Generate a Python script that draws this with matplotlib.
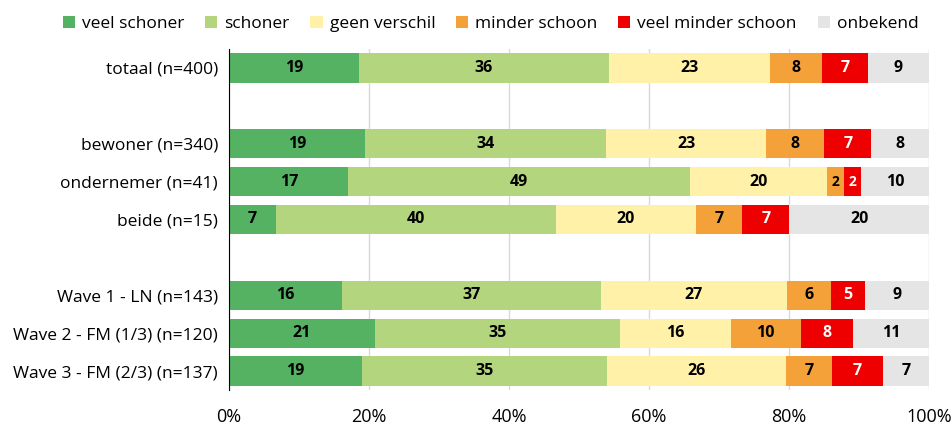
import numpy as np
import matplotlib.pyplot as plt

plt.rcParams['font.family'] = ['Open Sans', 'DejaVu Sans']

# Categories (top to bottom), '' marks an empty spacer row
categories = ['totaal (n=400)', '', 'bewoner (n=340)', 'ondernemer (n=41)', 'beide (n=15)', '',
              'Wave 1 - LN (n=143)', 'Wave 2 - FM (1/3) (n=120)', 'Wave 3 - FM (2/3) (n=137)']

series = ['veel schoner', 'schoner', 'geen verschil', 'minder schoon', 'veel minder schoon', 'onbekend']
colors = ['#55B262', '#B3D57D', '#FFF2A8', '#F4A13A', '#EE0000', '#E5E5E5']
label_colors = ['black', 'black', 'black', 'black', 'white', 'black']

# percentages per series, same order as categories (None for spacer rows)
veel_schoner = [18.50, None, 19.41, 17.07, 6.67, None, 16.08, 20.83, 18.98]
schoner = [35.75, None, 34.41, 48.78, 40.00, None, 37.06, 35.00, 35.04]
geen_verschil = [23.00, None, 22.94, 19.51, 20.00, None, 26.57, 15.83, 25.55]
minder_schoon = [7.50, None, 8.24, 2.44, 6.67, None, 6.29, 10.00, 6.57]
veel_minder = [6.50, None, 6.76, 2.44, 6.67, None, 4.90, 7.50, 7.30]
onbekend = [8.75, None, 8.24, 9.76, 20.00, None, 9.09, 10.83, 6.57]

data = [veel_schoner, schoner, geen_verschil, minder_schoon, veel_minder, onbekend]

fig = plt.figure(figsize=(9.51, 4.26), dpi=100)
ax = fig.add_axes([0.2408, 0.0845, 0.7361, 0.8005])

y = np.arange(len(categories))
left = np.zeros(len(categories))
for vals, name, col, lcol in zip(data, series, colors, label_colors):
    v = np.array([0 if x is None else x for x in vals], dtype=float)
    bars = ax.barh(y, v, left=left, height=0.77, color=col, label=name, zorder=3)
    for b, val in zip(bars, v):
        if val > 0:
            fs = 11.5 if val >= 3 else 10
            ax.text(b.get_x() + b.get_width() / 2, b.get_y() + b.get_height() / 2,
                    f"{np.floor(val + 0.5):.0f}",
                    ha='center', va='center', fontsize=fs, fontweight='bold', color=lcol, zorder=4)
    left += v

ax.set_xlim(0, 100)
ax.set_ylim(len(categories) - 0.5, -0.5)
ax.set_yticks(y)
ax.set_yticklabels(categories, fontsize=12.5)
ax.set_xticks(np.arange(0, 101, 20))
ax.set_xticklabels([f"{t}%" for t in range(0, 101, 20)], fontsize=13)
ax.tick_params(length=0, pad=8)
ax.tick_params(axis='x', pad=13)
ax.grid(axis='x', color='#D9D9D9', linewidth=1, zorder=0)
for s in ['top', 'right', 'bottom']:
    ax.spines[s].set_visible(False)
ax.spines['left'].set_color('black')
ax.spines['left'].set_zorder(5)

fig.legend(loc='upper center', bbox_to_anchor=(0.516, 1.0), ncol=6, frameon=False,
           fontsize=12.5, handlelength=0.7, handleheight=0.7, handletextpad=0.4, columnspacing=1.2)

fig.savefig('out.png', dpi=100)
